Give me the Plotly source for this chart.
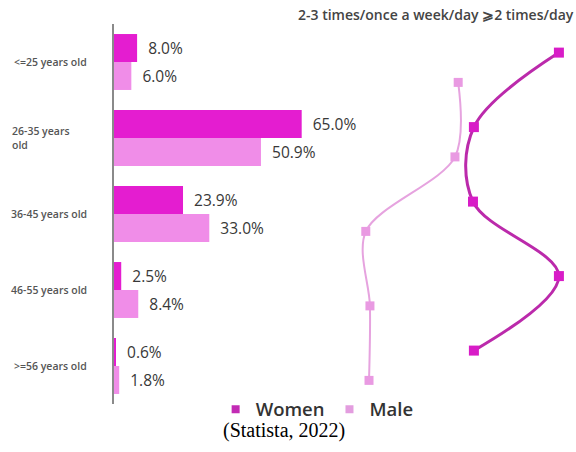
import plotly.graph_objects as go

# Age groups (top to bottom)
age_groups = ["<=25 years old", "26-35 years<br>old", "36-45 years old",
              "46-55 years old", ">=56 years old"]

# Share of users per age group (%)
women_share = [8.0, 65.0, 23.9, 2.5, 0.6]
male_share = [6.0, 50.9, 33.0, 8.4, 1.8]

# Usage-frequency index per age group (right-hand profile lines)
women_freq = [96.3, 77.9, 77.7, 96.3, 77.9]
male_freq = [74.5, 73.8, 54.5, 55.4, 55.2]

freq_header = "2-3 times/once a week/day \u2a7e2 times/day"

WOMEN_BAR = "#e41dd0"
MALE_BAR = "#f08de8"
WOMEN_LINE = "#bb2aab"
WOMEN_MARK = "#d81cc7"
MALE_LINE = "#e6a3df"
MALE_MARK = "#e99ae2"
LEGEND_WOMEN = "#c22bb4"
LEGEND_MALE = "#e39ddf"

idx = list(range(len(age_groups)))
bar_off = 0.184
bar_w = 0.368
line_off = 0.2

label_font = dict(family="Open Sans", size=15.5, color="#383838")

fig = go.Figure()

fig.add_trace(go.Bar(
    orientation="h", x=women_share, y=[i - bar_off for i in idx], width=bar_w,
    marker=dict(color=WOMEN_BAR, line=dict(width=0)),
    text=[f"\u00a0\u00a0{v:.1f}%" for v in women_share], textposition="outside",
    textfont=label_font, cliponaxis=False, constraintext="none",
    showlegend=False, hoverinfo="skip",
))
fig.add_trace(go.Bar(
    orientation="h", x=male_share, y=[i + bar_off for i in idx], width=bar_w,
    marker=dict(color=MALE_BAR, line=dict(width=0)),
    text=[f"\u00a0\u00a0{v:.1f}%" for v in male_share], textposition="outside",
    textfont=label_font, cliponaxis=False, constraintext="none",
    showlegend=False, hoverinfo="skip",
))

fig.add_trace(go.Scatter(
    x=male_freq, y=[i + line_off for i in idx], xaxis="x2", yaxis="y2",
    mode="lines+markers", line=dict(color=MALE_LINE, width=2, shape="spline", smoothing=0.9),
    marker=dict(symbol="square", size=9, color=MALE_MARK),
    showlegend=False, hoverinfo="skip",
))
fig.add_trace(go.Scatter(
    x=women_freq, y=[i - line_off for i in idx], xaxis="x2", yaxis="y2",
    mode="lines+markers", line=dict(color=WOMEN_LINE, width=3, shape="spline", smoothing=1),
    marker=dict(symbol="square", size=10, color=WOMEN_MARK),
    showlegend=False, hoverinfo="skip",
))

# Legend entries
fig.add_trace(go.Scatter(x=[None], y=[None], mode="markers", name="Women",
                         marker=dict(symbol="square", size=8, color=LEGEND_WOMEN)))
fig.add_trace(go.Scatter(x=[None], y=[None], mode="markers", name="Male",
                         marker=dict(symbol="square", size=8, color=LEGEND_MALE)))

# Age-group labels
annotations = []
for i, lab in enumerate(age_groups):
    multi = "<br>" in lab
    annotations.append(dict(
        text=lab, xref="paper", yref="y", y=i,
        x=-0.225 if multi else -0.054, xanchor="left" if multi else "right",
        align="left", showarrow=False,
        font=dict(family="Open Sans", size=10.5, color="#555555", weight=600),
    ))

annotations.append(dict(
    text=freq_header, xref="paper", yref="paper", x=1.0, y=1.026,
    xanchor="right", yanchor="middle", showarrow=False,
    font=dict(family="Open Sans", size=14, color="#444444", weight=600),
))
annotations.append(dict(
    text="(Statista, 2022)", xref="paper", yref="paper", x=0.369, y=-0.071,
    xanchor="center", yanchor="middle", showarrow=False,
    font=dict(family="Liberation Serif", size=20, color="#000000"),
))

fig.update_layout(
    width=576, height=452,
    margin=dict(l=114, r=0, t=24, b=48),
    paper_bgcolor="white", plot_bgcolor="white",
    barmode="overlay",
    showlegend=True,
    legend=dict(orientation="h", x=0.22, xanchor="left", y=-0.015, yanchor="middle",
                font=dict(family="Open Sans", size=18.5, color="#333333", weight=600),
                itemwidth=30, tracegroupgap=0, bgcolor="rgba(0,0,0,0)"),
    xaxis=dict(range=[0, 160], visible=False, fixedrange=True),
    yaxis=dict(range=[4.5, -0.5], showticklabels=False, ticks="", showgrid=False,
               zeroline=False, showline=True, linecolor="#8a8a8a", linewidth=1.5),
    xaxis2=dict(range=[0, 100], overlaying="x", visible=False),
    yaxis2=dict(range=[4.517, -0.584], overlaying="y", visible=False),
    annotations=annotations,
)

fig.write_html("out.html")
